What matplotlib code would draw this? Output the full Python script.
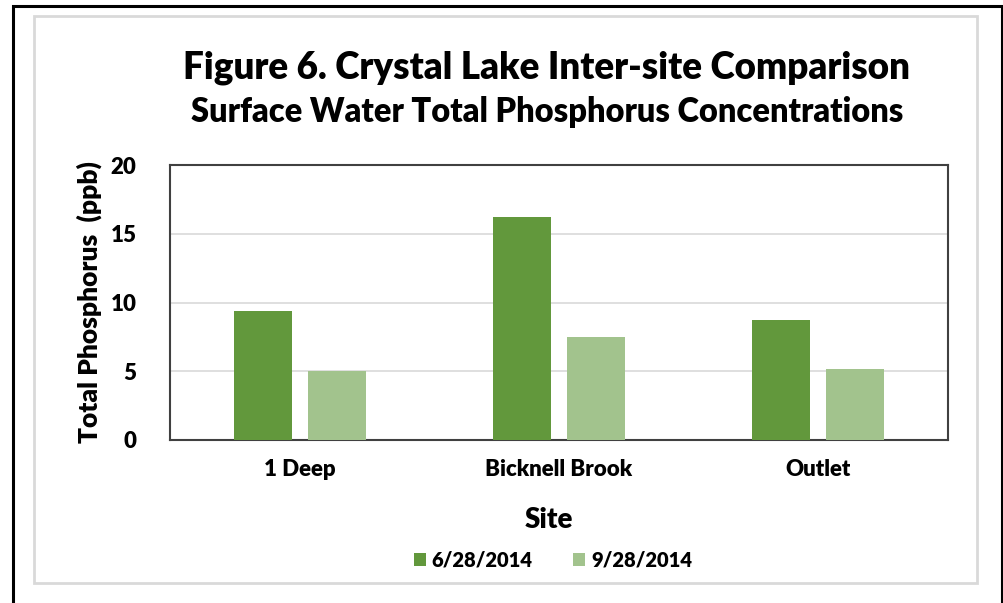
import matplotlib
matplotlib.use("Agg")
import matplotlib.pyplot as plt
import numpy as np
from matplotlib.patches import Rectangle

# Dados
sites = ["1 Deep", "Bicknell Brook", "Outlet"]
june_tp = [9.4, 16.2, 8.7]
sept_tp = [5.0, 7.5, 5.2]
dates = ["6/28/2014", "9/28/2014"]
yticks = [0, 5, 10, 15, 20]

dark_green = "#62983C"
light_green = "#A2C38D"

plt.rcParams["font.family"] = ["Lato", "DejaVu Sans"]

W, H = 1004, 603
fig = plt.figure(figsize=(W / 100, H / 100), dpi=100)


def fx(px):
    return px / W


def fy(py):
    return 1 - py / H


# moldura preta externa e caixa cinza do gráfico
fig.patches.append(Rectangle((fx(13), fy(620)), fx(1002) - fx(13), fy(6) - fy(620),
                             transform=fig.transFigure, fill=False, ec="black", lw=2.2))
fig.patches.append(Rectangle((fx(34), fy(583)), fx(977) - fx(34), fy(16) - fy(583),
                             transform=fig.transFigure, fill=False, ec="#D9D9D9", lw=2))

ax = fig.add_axes([fx(170), fy(440), fx(948) - fx(170), fy(165) - fy(440)])

x = np.arange(len(sites))
width = 0.224
offset = 0.143
b1 = ax.bar(x - offset, june_tp, width, color=dark_green, label=dates[0], zorder=3)
b2 = ax.bar(x + offset, sept_tp, width, color=light_green, label=dates[1], zorder=3)

W_TXT = "heavy"

ax.set_xlim(-0.5, 2.5)
ax.set_ylim(0, 20)
ax.set_yticks(yticks)
ax.set_xticks(x)
ax.set_xticklabels(sites, fontsize=16, fontweight=W_TXT)
ax.set_yticklabels([str(t) for t in yticks], fontsize=16, fontweight=W_TXT)
ax.tick_params(axis="both", length=0)
ax.tick_params(axis="x", pad=14)
ax.tick_params(axis="y", pad=24)
ax.yaxis.grid(True, color="#D9D9D9", lw=1.2, zorder=0)
for s in ax.spines.values():
    s.set_color("#404040")
    s.set_linewidth(1.5)

ax.set_ylabel("Total Phosphorus  (ppb)", fontsize=19, fontweight=W_TXT, labelpad=6)
fig.text(fx(549), fy(520), "Site", fontsize=20, fontweight=W_TXT, ha="center", va="center")

fig.text(fx(547), fy(68), "Figure 6. Crystal Lake Inter-site Comparison",
         fontsize=26.5, fontweight=W_TXT, ha="center", va="center")
fig.text(fx(547), fy(112), "Surface Water Total Phosphorus Concentrations",
         fontsize=23.5, fontweight=W_TXT, ha="center", va="center")

fig.legend(handles=[b1, b2], loc="center", bbox_to_anchor=(fx(553), fy(560)), ncol=2,
           frameon=False, prop={"size": 14.5, "weight": W_TXT}, handlelength=0.6,
           handleheight=0.6, handletextpad=0.3, columnspacing=2.0)

fig.savefig("out.png", dpi=100, facecolor="white")
